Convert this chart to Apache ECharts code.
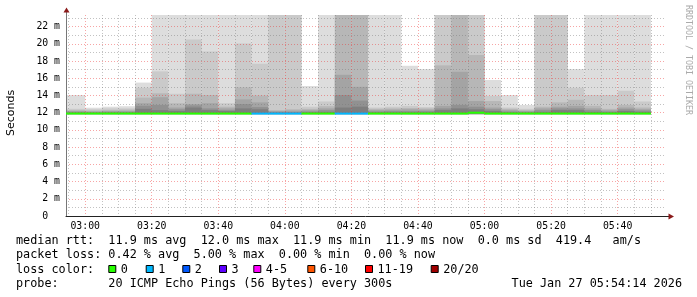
<!DOCTYPE html>
<html><head><meta charset="utf-8">
<script src="https://cdn.jsdelivr.net/npm/echarts@6/dist/echarts.min.js"></script>
<style>html,body{margin:0;padding:0;background:#fff}#c{width:697px;height:297px}</style>
</head><body><div id="c"></div>
<script>
// ---- data ----
const stepStarts = ['02:50','02:55','03:00','03:05','03:10','03:15','03:20','03:25','03:30','03:35','03:40','03:45',
  '03:50','03:55','04:00','04:05','04:10','04:15','04:20','04:25','04:30','04:35','04:40','04:45',
  '04:50','04:55','05:00','05:05','05:10','05:15','05:20','05:25','05:30','05:35','05:40','05:45'];
const stepMinutes = 5;
// upper pings of each smoke layer (ms), outermost (max) first
const smokeUpper = [
  [14.05,12.45,12.3,12.2,12.1,12.0],
  [14.05,12.45,12.3,12.2,12.1,12.0],
  [12.58,12.4,12.25,12.15,12.05,12.0],
  [12.7,12.5,12.3,12.2,12.1,12.0],
  [12.75,12.5,12.35,12.2,12.1,12.0],
  [15.5,14.9,13.75,13.1,12.8,12.45],
  [24.5,16.8,14.25,13.8,12.9,12.3],
  [24.5,14.2,13.1,12.6,12.4,12.2],
  [24.5,20.5,14.2,13.0,12.85,12.6],
  [24.5,19.1,14.05,13.1,12.5,12.3],
  [24.5,13.1,12.7,12.5,12.3,12.2],
  [24.5,20.05,14.95,13.55,13.0,12.5],
  [24.5,17.7,14.0,13.2,12.65,12.4],
  [24.5,24.0,12.3,12.2,12.1,12.0],
  [24.5,24.0,12.4,12.25,12.1,12.0],
  [15.1,12.7,12.45,12.3,12.15,12.05],
  [24.5,13.3,12.75,12.5,12.3,12.1],
  [24.5,24.3,24.0,16.4,14.05,12.6],
  [24.5,24.3,24.0,15.0,13.4,12.7],
  [24.5,12.6,12.45,12.3,12.15,12.05],
  [24.5,12.7,12.5,12.35,12.2,12.05],
  [17.45,12.8,12.55,12.4,12.2,12.05],
  [17.07,12.65,12.5,12.35,12.2,12.05],
  [24.5,24.0,17.5,12.8,12.5,12.3],
  [24.5,24.3,24.0,16.75,12.9,12.5],
  [24.5,24.0,18.7,13.35,12.7,12.4],
  [15.8,13.95,13.35,12.6,12.4,12.2],
  [14.05,12.6,12.45,12.3,12.15,12.05],
  [12.9,12.45,12.3,12.2,12.1,12.0],
  [24.5,24.0,12.7,12.5,12.3,12.1],
  [24.5,24.0,13.2,12.7,12.5,12.3],
  [17.07,14.9,13.5,12.8,12.5,12.3],
  [24.5,14.05,12.8,12.5,12.3,12.1],
  [24.5,14.05,12.45,12.3,12.15,12.05],
  [24.5,14.55,12.9,12.6,12.4,12.2],
  [24.5,13.3,12.6,12.4,12.25,12.1]
];
// lower pings of each smoke layer (ms), outermost (min) first
const smokeLower = [11.75,11.8,11.83,11.85,11.87,11.88];
const medianRtt = [11.9,11.9,11.9,11.9,11.9,11.9,11.9,11.9,11.9,11.9,11.9,11.9,
  11.9,11.9,11.9,11.9,11.9,11.9,11.9,11.9,11.9,11.9,11.9,11.9,
  11.9,12.0,11.9,11.9,11.9,11.9,11.9,11.9,11.9,11.9,11.9,11.9];
const lossCount = [0,0,0,0,0,0,0,0,0,0,0,0,
  1,1,1,0,0,1,1,0,0,0,0,0,
  0,0,0,0,0,0,0,0,0,0,0,0];
const xTickLabels = ['03:00','03:20','03:40','04:00','04:20','04:40','05:00','05:20','05:40'];
const yTickLabels = [' 0  ',' 2 m',' 4 m',' 6 m',' 8 m','10 m','12 m','14 m','16 m','18 m','20 m','22 m'];
const xStart = '02:54:14', xEnd = '05:54:14';
const yTop = 23.35;
const lossLegend = ['0','1','2','3','4-5','6-10','11-19','20/20'];
const lossColors = ['#26ff00','#00b8ff','#0059ff','#5e00ff','#ff00ff','#ff5500','#ff0000','#a00000'];
const statLines = [
  'median rtt:  11.9 ms avg  12.0 ms max  11.9 ms min  11.9 ms now  0.0 ms sd  419.4   am/s',
  'packet loss: 0.42 % avg  5.00 % max  0.00 % min  0.00 % now',
  'loss color:',
  'probe:       20 ICMP Echo Pings (56 Bytes) every 300s'
];
const dateText = 'Tue Jan 27 05:54:14 2026';

// ---- helpers ----
function toMin(s){const p=s.split(':').map(Number);return p[0]*60+p[1]+(p[2]||0)/60;}
const shades = ['#dddddd','#cacaca','#b7b7b7','#a4a4a4','#919191','#7e7e7e','#6b6b6b'];
const xMin = toMin(xStart), xMax = toMin(xEnd);
const xLabelVals = xTickLabels.map(toMin);
const gridVals = [];
for (let i=0;i<stepStarts.length;i++){ const v = toMin(stepStarts[i])+stepMinutes; if (v>xMin && v<xMax) gridVals.push(v); }

const smokeData = [];
for (let l=0;l<6;l++){
  stepStarts.forEach((s,i)=>{
    const t=toMin(s);
    smokeData.push([t, t+stepMinutes, smokeLower[l], smokeUpper[i][l], l]);
  });
}
const medData = stepStarts.map((s,i)=>{const t=toMin(s);return [t,t+stepMinutes,medianRtt[i],lossCount[i]];});

function lossColorIdx(n){ if(n<=3) return n; if(n<=5) return 4; if(n<=10) return 5; if(n<=19) return 6; return 7; }

const GRID='rgba(120,120,120,0.45)', MGRID='rgba(235,40,40,0.42)';
const mono='DejaVu Sans Mono';

const chart = echarts.init(document.getElementById('c'), null, {renderer:'canvas'});
const legendGraphics = [];
statLines.forEach((t,i)=>{
  legendGraphics.push({type:'text', x:16, y:241+i*14.3, style:{text:t, font:'11.8px "DejaVu Sans Mono"', fill:'#000', verticalAlign:'middle'}});
});
legendGraphics.push({type:'text', x:682, y:241+3*14.3, style:{text:dateText, font:'11.8px "DejaVu Sans Mono"', fill:'#000', align:'right', verticalAlign:'middle'}});
const boxX=[108.3,145.7,182.3,219,253.3,307.3,365,430.7];
lossLegend.forEach((lab,i)=>{
  legendGraphics.push({type:'rect', shape:{x:boxX[i]+0.5, y:265.5, width:7, height:7}, style:{fill:lossColors[i], stroke:'#000', lineWidth:1}});
  legendGraphics.push({type:'text', x:boxX[i]+12.5, y:241+2*14.3, style:{text:lab, font:'11.8px "DejaVu Sans Mono"', fill:'#000', verticalAlign:'middle'}});
});

chart.setOption({
  backgroundColor:'#fff',
  animation:false,
  grid:{left:66, right:32, top:15, bottom:81, containLabel:false},
  xAxis:{type:'value', min:xMin, max:xMax,
    axisLine:{show:true, lineStyle:{color:'#222', width:1}},
    axisTick:{show:false, customValues:gridVals},
    axisLabel:{customValues:xLabelVals, margin:5, color:'#000', fontFamily:mono, fontSize:9.8,
      formatter:v=>{const i=xLabelVals.findIndex(x=>Math.abs(x-v)<1e-6);return i>=0?xTickLabels[i]:'';}},
    splitLine:{show:true, lineStyle:{color:[GRID,MGRID,GRID,GRID], type:[1,2], width:1}}
  },
  yAxis:{type:'value', min:0, max:yTop, interval:1,
    axisLine:{show:true, lineStyle:{color:'#777', width:1}},
    axisTick:{show:false},
    axisLabel:{margin:6, color:'#000', fontFamily:mono, fontSize:9.8, showMaxLabel:false,
      formatter:v=>{ if (Math.abs(v-Math.round(v))>1e-6 || Math.round(v)%2) return ''; return yTickLabels[Math.round(v)/2]||''; }},
    splitLine:{show:true, showMinLine:false, showMaxLine:false, lineStyle:{color:[GRID,MGRID], type:[1,2], width:1}}
  },
  series:[
    {type:'custom', z:-1, data:smokeData, encode:{x:[0,1], y:[2,3]},
      renderItem:(params, api)=>{
        const a=api.coord([api.value(0), api.value(3)]);
        const b=api.coord([api.value(1), api.value(2)]);
        const cs=params.coordSys;
        const r=echarts.graphic.clipRectByRect({x:a[0], y:a[1], width:b[0]-a[0], height:b[1]-a[1]}, {x:cs.x, y:cs.y, width:cs.width, height:cs.height});
        if(!r) return;
        return {type:'rect', shape:r, style:{fill:shades[api.value(4)]}};
      }},
    {type:'custom', z:5, data:medData, encode:{x:[0,1], y:2},
      renderItem:(params, api)=>{
        const a=api.coord([api.value(0), api.value(2)]);
        const b=api.coord([api.value(1), api.value(2)]);
        const cs=params.coordSys;
        const r=echarts.graphic.clipRectByRect({x:a[0], y:a[1]-1, width:b[0]-a[0], height:2}, {x:cs.x, y:cs.y, width:cs.width, height:cs.height});
        if(!r) return;
        return {type:'rect', shape:r, style:{fill:lossColors[lossColorIdx(api.value(3))]}};
      }}
  ],
  graphic:[
    {type:'line', shape:{x1:66.5, y1:15, x2:66.5, y2:12}, style:{stroke:'#777', lineWidth:1}},
    {type:'polygon', shape:{points:[[66.5,7.5],[63.5,12.5],[69.5,12.5]]}, style:{fill:'#8b1a1a'}},
    {type:'line', shape:{x1:665, y1:216.5, x2:669, y2:216.5}, style:{stroke:'#222', lineWidth:1}},
    {type:'polygon', shape:{points:[[674,216.5],[668.5,213.5],[668.5,219.5]]}, style:{fill:'#8b1a1a'}},
    {type:'text', x:11, y:113, rotation:Math.PI/2, style:{text:'Seconds', font:'11px "DejaVu Sans"', fill:'#000', align:'center', verticalAlign:'middle'}},
    {type:'text', x:688, y:60, rotation:-Math.PI/2, style:{text:'RRDTOOL / TOBI OETIKER', font:'8.3px "DejaVu Sans Mono"', fill:'#aaa', align:'center', verticalAlign:'middle'}}
  ].concat(legendGraphics)
});
</script></body></html>
